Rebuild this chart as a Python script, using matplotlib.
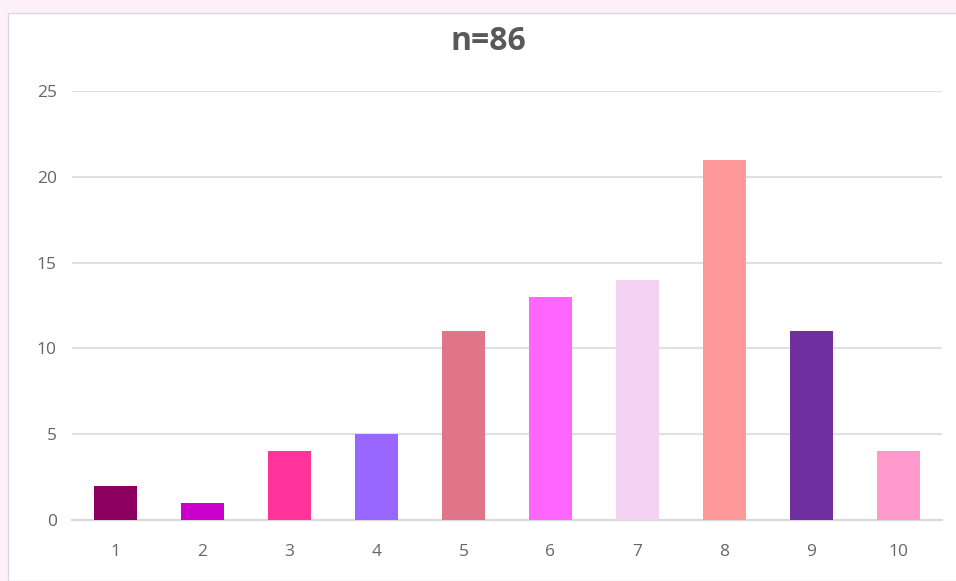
import matplotlib.pyplot as plt
from matplotlib.patches import Rectangle

# -------------------------------
# Counts per score (n=86)
scores = ["1", "2", "3", "4", "5", "6", "7", "8", "9", "10"]
counts = [2, 1, 4, 5, 11, 13, 14, 21, 11, 4]
colors = ["#8E0060", "#CC00CC", "#FF3399", "#9966FF", "#E0758A",
          "#FF66FF", "#F4D2F1", "#FF9999", "#7030A0", "#FF99CC"]
title = "n=86"
yticks = [0, 5, 10, 15, 20, 25]

plt.rcParams['font.family'] = ['Open Sans', 'DejaVu Sans']

fig = plt.figure(figsize=(9.56, 5.81), dpi=100)
fig.patch.set_facecolor("#FDF0F9")

# white chart panel behind the axes
W, H = 956, 581
panel = Rectangle((8 / W, 0), 1, 1 - 13 / H, transform=fig.transFigure,
                  facecolor="white", edgecolor="#D9D9D9", linewidth=1, zorder=-10)
fig.patches.append(panel)

ax = fig.add_axes([72 / W, 61 / H, 870 / W, 429 / H])
ax.set_facecolor("none")
ax.set_zorder(1)

x = range(len(scores))
ax.bar(x, counts, width=0.5, color=colors, zorder=3)

ax.set_xlim(-0.5, len(scores) - 0.5)
ax.set_ylim(0, 25)
ax.set_yticks(yticks)
ax.set_xticks(list(x))
ax.set_xticklabels(scores)
ax.yaxis.grid(True, color="#E0E0E0", linewidth=1.5, zorder=0)
for s in ["top", "right", "left"]:
    ax.spines[s].set_visible(False)
ax.spines["bottom"].set_color("#D9D9D9")
ax.spines["bottom"].set_linewidth(1.5)
ax.tick_params(axis="both", length=0, colors="#666666", labelsize=12.5)
ax.tick_params(axis="x", pad=17)
ax.tick_params(axis="y", pad=11)

fig.text(488 / W, 1 - 42 / H, title, ha="center", va="center",
         fontsize=23, fontweight="bold", color="#595959")

fig.savefig("out.png", dpi=100, facecolor=fig.get_facecolor())
